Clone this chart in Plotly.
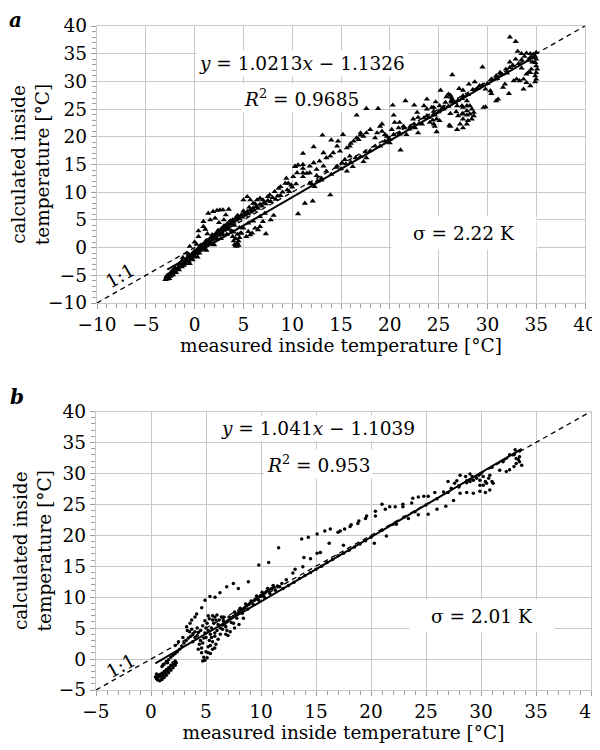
import plotly.graph_objects as go

# ---------------- data: panel a (triangles) ----------------
a_points = [
    # bottom cluster
    (-3.0,-5.8),(-2.9,-5.6),(-2.8,-5.7),(-2.7,-5.4),(-2.9,-5.3),(-2.6,-5.6),(-2.5,-5.2),(-2.8,-5.0),(-2.4,-5.0),(-2.6,-4.8),
    (-2.3,-4.7),(-2.2,-4.9),(-2.1,-4.4),(-2.4,-4.4),(-2.0,-4.2),(-1.9,-4.5),(-1.8,-3.9),(-2.2,-4.0),(-1.7,-3.6),(-1.6,-4.0),
    (-1.5,-3.4),(-2.0,-3.7),(-1.4,-3.1),(-1.3,-3.5),(-1.2,-2.8),(-1.6,-3.0),(-1.1,-3.2),(-1.0,-2.5),(-0.9,-2.9),(-1.3,-2.4),
    # main band
    (-0.8,-2.2),(-0.7,-1.7),(-0.6,-2.5),(-0.5,-1.5),(-0.4,-2.0),(-0.3,-1.2),(-0.2,-1.7),(-0.1,-0.9),(0.0,-1.5),(0.1,-0.6),
    (0.2,-1.1),(0.3,-0.3),(0.4,-0.8),(0.5,0.0),(0.6,-0.5),(0.7,0.3),(0.8,-0.2),(0.9,0.6),(1.0,0.1),(1.1,0.9),
    (1.2,0.4),(1.3,1.2),(1.4,0.7),(1.5,1.5),(1.6,1.0),(1.7,1.8),(1.8,1.3),(1.9,2.1),(2.0,1.6),(2.1,2.4),
    (2.2,1.9),(2.3,2.7),(2.4,2.2),(2.5,3.0),(2.6,2.5),(2.7,3.3),(2.8,2.8),(2.9,3.6),(3.0,3.1),(3.1,3.9),
    (3.2,3.4),(3.3,4.2),(3.4,3.7),(3.5,4.5),(3.6,4.0),(3.7,4.8),(3.8,4.3),(3.9,5.0),(4.0,4.6),(4.2,5.3),
    (4.3,4.9),(4.5,5.6),(4.6,5.2),(4.8,5.9),(4.9,5.5),(5.1,6.2),(5.2,5.8),(5.4,6.5),(5.5,6.1),(5.7,6.8),
    (5.8,6.4),(6.0,7.1),(6.1,6.7),(6.3,7.4),(6.5,7.1),(6.7,7.8),(6.9,7.5),(7.1,8.1),(7.3,7.9),(7.5,8.5),
    (7.8,8.3),(8.0,9.0),
    (-0.6,-1.2),(0.0,-0.6),(0.6,0.4),(1.2,1.3),(1.8,2.3),(2.4,3.1),(3.0,3.9),(3.6,4.7),(4.4,5.8),(5.0,6.6),
    (5.6,7.3),(6.2,7.9),(-0.2,-2.2),(0.5,-1.0),(1.1,-0.3),(1.7,0.6),(2.3,1.5),(2.9,2.3),(3.5,3.3),(4.1,4.0),
    # above band, low x
    (-1.2,-1.8),(-0.5,0.2),(0.0,1.0),(0.4,2.0),(0.4,3.0),(0.9,3.8),(0.9,4.7),(1.1,3.3),(1.4,6.2),(1.6,5.0),
    (1.9,6.5),(2.1,5.3),(2.3,6.7),(2.6,6.8),(2.9,6.8),(3.2,5.9),(3.5,6.9),(3.0,5.0),(2.5,4.5),(0.2,0.6),
    (-0.8,-1.0),(1.3,2.5),
    # below band, low x
    (-0.5,-2.9),(0.3,-1.7),(1.2,-0.5),(2.0,0.5),(2.7,1.6),(3.3,2.4),(3.8,3.0),(4.6,3.6),
    # blob near x = 4.3
    (3.9,2.0),(4.0,1.2),(4.1,0.6),(4.2,0.3),(4.3,0.5),(4.4,0.8),(4.5,1.2),(4.6,1.8),(4.4,2.4),(4.2,1.6),
    (4.0,2.8),(4.3,0.2),(4.5,0.4),(4.7,2.6),
    # below band, x 5-8
    (5.0,3.5),(5.5,2.9),(5.7,2.3),(6.2,3.5),(6.5,3.2),(6.7,3.8),(7.3,2.5),(7.0,4.7),(6.7,5.6),(7.2,6.2),
    (5.3,2.0),(5.9,2.6),(4.8,2.6),(7.8,5.0),(8.1,5.8),(6.0,4.8),(5.5,4.4),
    # above band, x 5-11
    (5.0,8.6),(5.4,9.2),(5.7,8.6),(6.4,8.6),(6.7,8.9),(6.0,8.0),(7.7,9.5),(8.2,10.1),(8.6,10.7),(8.8,11.0),
    (9.3,11.6),(9.6,11.6),(9.9,11.3),(9.4,12.5),(10.1,12.8),(10.3,14.6),(10.6,14.9),(11.1,14.3),(11.5,13.4),(11.1,12.8),
    (8.5,9.3),(9.0,10.0),(9.5,10.4),(10.0,10.9),(8.3,8.7),(8.8,9.4),(9.7,10.1),(10.4,11.5),(7.5,9.2),(7.0,8.6),
    # outliers below
    (10.6,6.1),(11.3,8.0),(12.1,8.4),(13.9,9.5),(12.3,11.0),(13.0,12.5),(11.8,11.6),(12.6,12.0),
    # middle, x 10-22
    (10.3,14.7),(11.1,17.0),(12.2,18.2),(13.1,20.3),(14.0,19.4),(14.2,17.1),(14.7,19.2),(14.6,18.3),(14.9,17.4),(13.9,16.5),
    (13.5,16.2),(13.2,17.1),(12.8,15.6),(12.2,15.3),(11.8,14.7),(11.1,15.0),(10.5,13.5),(11.1,13.5),(11.8,13.5),(12.5,14.1),
    (13.2,14.7),(15.2,20.4),(15.6,18.0),(15.9,18.3),(16.0,18.8),(16.3,19.2),(16.8,19.5),(16.6,19.8),(17.0,20.3),(17.0,20.7),
    (17.3,20.1),(17.6,20.7),(18.0,21.3),(17.6,16.2),(15.9,16.5),(15.4,15.9),(15.1,15.3),(14.6,14.7),(15.6,13.8),(16.6,23.9),
    (17.6,25.1),(18.8,25.1),(18.7,20.7),(18.5,19.8),(19.0,21.9),(19.2,21.0),(19.5,20.4),(19.9,19.5),(19.7,20.1),(20.0,18.9),
    (19.2,22.3),(20.3,25.7),(20.4,23.9),(20.2,21.3),(20.4,20.4),(20.5,22.6),(21.0,22.6),(20.9,21.6),(21.0,20.7),(21.4,21.9),
    (21.7,20.4),(21.1,17.6),
    # along the line, x 12-20
    (12.0,11.5),(13.0,12.2),(14.0,13.2),(15.0,14.2),(16.0,15.4),(17.0,16.4),(18.0,17.5),(19.0,18.3),(20.0,19.5),(12.5,13.0),
    (13.5,13.8),(14.5,14.5),(15.5,15.1),(16.5,16.2),(17.5,17.3),(18.5,18.3),(19.5,19.2),(16.2,14.6),(17.3,15.5),
    # upper right, x 21-32
    (21.6,26.5),(22.5,25.7),(22.8,24.4),(22.9,23.5),(22.4,23.2),(23.3,22.3),(22.1,21.9),(22.6,21.6),(22.9,20.7),(23.8,26.8),
    (23.5,25.6),(23.8,25.0),(24.3,25.3),(24.5,24.1),(24.8,23.2),(24.6,21.9),(25.1,22.9),(24.1,22.6),(23.8,23.8),(25.5,25.4),
    (25.3,25.0),(26.2,24.2),(26.8,24.5),(27.5,24.2),(27.9,23.9),(27.5,23.2),(27.2,22.3),(26.2,21.9),(27.5,21.6),(26.2,27.5),
    (25.8,27.2),(26.4,26.8),(27.4,26.9),(27.9,26.5),(27.9,25.6),(27.4,25.6),(26.3,26.5),(26.4,31.2),(25.2,28.4),(27.1,28.7),
    (27.5,28.4),(28.1,29.5),(28.2,25.6),(28.4,25.0),(28.6,24.4),(28.6,23.8),(28.2,24.1),(27.9,24.7),(27.5,25.3),(27.4,24.1),
    (27.0,23.8),(28.4,23.2),(28.0,22.9),(27.9,22.3),(26.1,22.1),(26.9,21.3),(24.7,26.3),(24.5,25.3),(24.6,23.9),(24.4,23.0),
    (24.5,22.3),(24.8,20.9),(26.0,27.7),(26.3,27.1),(25.1,25.6),(25.7,26.2),(26.7,26.2),(26.9,25.6),(28.7,29.9),(29.2,29.2),
    (29.8,28.6),(30.3,28.3),(30.4,27.8),(30.9,26.5),(31.1,26.8),(29.6,25.3),(29.8,25.4),(29.5,32.6),(30.9,31.0),(30.8,30.4),
    (31.3,31.6),(30.4,30.4),(31.8,29.5),(31.6,28.9),(32.2,27.8),
    # top right cluster
    (32.3,38.0),(32.9,37.2),(33.1,35.4),(33.5,35.0),(34.0,35.1),(34.4,35.0),(34.7,34.9),(35.0,35.2),(34.4,34.3),(34.7,34.3),
    (34.9,34.5),(35.0,34.0),(34.9,33.4),(35.0,32.8),(35.1,32.2),(35.0,31.6),(34.9,31.0),(35.0,30.4),(34.9,29.9),(34.5,32.2),
    (34.2,31.6),(34.0,31.3),(34.4,31.6),(33.7,30.4),(34.0,29.8),(34.4,29.2),(33.3,30.1),(33.0,30.4),(32.7,30.1),(33.7,28.6),
    (32.3,33.5),(32.6,32.9),(33.2,33.2),(33.5,33.9),(32.9,34.0),(32.3,32.5),(31.9,32.2),(33.8,34.5),(34.2,33.8),(33.5,32.4),
    (34.6,33.5),
    # along the line, x 21-32
    (21.0,20.5),(22.0,21.4),(23.0,22.4),(24.0,23.5),(25.0,24.5),(26.0,25.5),(27.0,26.6),(28.0,27.6),(29.0,28.7),(30.0,29.6),
    (31.0,30.5),(32.0,31.5),(21.5,21.6),(22.5,22.3),(23.5,23.4),(24.5,24.6),(25.5,25.0),(26.5,26.2),(27.5,27.4),(28.5,28.5),
    (29.5,29.3),(30.5,30.3),(31.5,31.3),
]

# ---------------- data: panel b (dots) ----------------
b_points = [
    # lower-left loop
    (0.4,-2.9),(0.5,-3.2),(0.6,-3.4),(0.8,-3.5),(1.0,-3.3),(1.2,-3.0),(1.4,-2.6),(1.6,-2.2),(1.8,-1.8),(2.0,-1.4),
    (2.2,-1.0),(2.3,-0.6),(2.2,-0.3),(2.0,-0.6),(1.8,-1.0),(1.6,-1.4),(1.4,-1.7),(1.2,-2.0),(1.0,-2.3),(0.8,-2.5),
    (0.6,-2.6),(0.5,-2.4),(0.7,-2.9),(0.9,-2.9),(1.1,-2.6),(1.3,-2.3),(1.5,-1.9),(1.7,-1.5),(1.9,-1.1),(2.1,-0.8),
    (1.0,-1.2),(1.2,-0.8),(1.4,-0.4),(1.6,-0.1),(1.8,0.3),(2.0,0.6),(2.2,0.9),(1.1,-0.9),(1.5,-0.6),
    # chain upward
    (2.4,1.2),(2.6,1.6),(2.8,2.1),(3.0,2.6),(3.2,3.0),(3.4,3.4),(3.6,3.7),(3.8,4.1),(4.0,4.4),(3.5,4.4),
    (3.3,4.6),(3.7,4.8),(2.9,3.5),(2.5,2.8),(2.2,2.2),(4.0,3.5),(3.8,2.8),(4.2,5.0),(4.3,4.3),
    # blob near x = 5-6.5
    (4.7,-0.3),(4.8,0.3),(4.6,1.0),(4.6,1.8),(4.7,2.6),(4.8,3.4),(4.9,4.2),(5.0,5.0),(5.1,5.8),(5.3,6.5),
    (5.6,7.0),(6.0,7.1),(6.4,6.8),(6.6,6.2),(6.7,5.5),(6.5,4.8),(6.3,4.0),(6.1,3.2),(5.9,2.4),(5.6,1.6),
    (5.4,0.9),(5.1,0.2),(4.9,-0.2),(5.2,2.0),(5.3,3.0),(5.4,4.0),(5.5,5.0),(5.7,5.8),(5.9,6.3),(6.1,5.6),
    (6.0,4.6),(5.8,3.7),(5.6,2.8),(5.4,2.2),(5.0,3.5),(5.2,4.6),(5.6,6.3),(6.2,6.3),(6.3,5.0),(5.8,4.2),
    (5.5,3.5),(5.0,1.2),(5.2,1.0),(5.8,1.8),(4.3,1.6),(4.4,2.4),(4.5,3.0),(4.2,3.8),(4.5,4.6),(4.7,5.4),
    (4.9,6.2),(5.2,7.0),(5.8,6.8),(6.6,6.8),
    # dense band x 6.5-12
    (6.5,5.5),(6.7,5.8),(6.9,6.0),(7.0,6.2),(7.2,6.5),(7.4,6.7),(7.5,6.9),(7.7,7.2),(7.9,7.4),(8.0,7.6),
    (8.2,7.9),(8.4,8.1),(8.5,8.3),(8.7,8.6),(8.9,8.8),(9.0,9.0),(9.2,9.3),(9.4,9.5),(9.5,9.7),(9.7,9.9),
    (9.9,10.1),(10.0,10.3),(10.2,10.5),(10.4,10.7),(10.5,10.9),(10.7,11.1),(10.9,11.3),(11.0,11.4),(11.2,11.6),(11.5,11.8),
    (6.6,6.1),(7.1,6.8),(7.6,7.6),(8.1,8.2),(8.6,8.9),(9.1,9.4),(9.6,10.2),(10.1,10.8),(10.6,11.4),(11.1,11.9),
    (6.8,5.2),(7.3,5.9),(7.8,6.6),(8.3,7.4),(8.8,8.1),(9.3,8.8),(9.8,9.5),(10.3,10.0),(10.8,10.6),(11.3,11.1),
    (7.5,5.8),(8.4,6.6),(7.2,4.4),(6.8,4.0),(7.0,3.8),(7.6,5.0),(8.0,5.6),(6.9,4.6),
    # upper arc
    (3.24,5.2),(3.55,5.8),(3.7,6.3),(4.0,6.8),(4.15,7.3),(4.61,8.3),(4.91,9.5),(5.36,10.1),(5.82,10.0),(6.27,10.7),
    (6.88,11.7),(7.49,12.2),(7.94,11.4),(8.85,12.5),(9.8,15.2),(10.7,15.6),(11.6,18.0),(13.7,19.4),(14.3,19.7),(15.1,20.2),
    (15.8,20.7),(16.3,21.0),(17.0,20.5),(17.2,20.7),(17.6,21.0),(18.1,21.4),(18.2,21.7),(18.8,21.9),(18.9,22.3),(19.5,22.7),
    (19.6,23.1),(20.4,23.1),(20.4,23.9),(21.0,25.0),(21.3,24.2),(21.7,24.6),(22.2,24.6),(22.9,24.6),(22.9,25.0),(23.7,25.2),
    (23.8,26.0),(24.3,26.2),(24.8,26.3),(25.2,26.3),(25.8,26.9),(26.6,27.0),(27.3,27.6),(28.0,27.8),(28.7,28.5),
    # lower branch
    (13.9,16.4),(14.5,16.2),(15.1,17.1),(15.4,17.2),(16.2,18.7),(17.5,18.4),(13.8,14.9),(13.1,14.5),(12.9,13.9),(12.3,12.8),
    (11.9,12.2),(11.7,11.7),(20.3,18.7),(21.4,19.9),(22.3,21.8),(23.4,22.7),(24.3,23.3),(25.2,23.4),(26.0,24.2),(26.8,24.7),
    (27.5,25.6),(28.1,26.8),(28.7,26.9),(29.3,26.8),(29.9,27.1),(30.4,26.9),(30.8,27.3),
    # along the line
    (12.0,11.4),(12.5,11.9),(13.0,12.4),(13.5,13.0),(14.0,13.5),(14.5,14.0),(15.0,14.5),(15.5,15.0),(16.0,15.6),(16.5,16.1),
    (17.0,16.7),(17.5,17.1),(18.0,17.6),(18.5,18.1),(19.0,18.6),(19.5,19.1),(20.0,19.7),(21.0,20.8),(22.0,21.8),(23.0,22.9),
    (24.0,23.8),(25.0,24.9),(26.0,25.9),(27.0,26.9),(28.0,28.0),(29.0,29.0),(30.0,30.0),(31.0,31.0),(32.0,32.0),(33.0,33.0),
    (33.5,33.6),
    # cluster x 28-31
    (28.1,29.7),(28.6,29.5),(29.0,29.9),(29.2,29.5),(29.3,28.9),(29.6,29.2),(29.8,29.7),(29.9,28.9),(30.2,29.5),(30.4,28.7),
    (30.5,28.4),(30.7,29.2),(30.8,29.7),(31.0,28.7),(31.1,28.4),(30.2,28.1),(29.9,28.1),(29.0,28.7),(28.7,28.8),(27.8,28.8),
    (27.0,28.7),(27.6,28.4),
    # right cluster x 32-34
    (31.7,30.5),(32.3,30.3),(32.6,30.6),(33.0,31.1),(33.2,31.6),(33.4,32.2),(33.5,32.7),(33.7,31.3),(33.5,31.9),(33.2,32.4),
    (32.0,31.9),(32.6,33.0),(33.1,33.8),
]

a_x = [p[0] for p in a_points]
a_y = [p[1] for p in a_points]
b_x = [p[0] for p in b_points]
b_y = [p[1] for p in b_points]

# regression lines (slope, intercept) and x-extent
a_fit = (1.0213, -1.1326)
a_fit_x = [-2.8, 35.0]
b_fit = (1.041, -1.1039)
b_fit_x = [0.4, 33.7]
a_range = [-10, 40]
b_range_x = [-5, 40]
b_range_y = [-5, 40]

a_fit_y = [a_fit[0] * v + a_fit[1] for v in a_fit_x]
b_fit_y = [b_fit[0] * v + b_fit[1] for v in b_fit_x]

FONT = "DejaVu Serif"
FS = 18.5
GRID = "#c8c8c8"

# page body margin offsets the figure by 8 px; size the figure to fill the rest
OFF = 8
W, H = 600 - OFF, 750 - OFF

def xd(p0, p1):
    return [(p0 - OFF) / W, (p1 - OFF) / W]

def yd(top, bottom):
    return [1 - (bottom - OFF) / H, 1 - (top - OFF) / H]

fig = go.Figure()

# panel a
fig.add_trace(go.Scatter(x=a_range, y=a_range, mode="lines",
                         line=dict(color="black", width=1.3, dash="5px,4px"),
                         xaxis="x", yaxis="y", showlegend=False))
fig.add_trace(go.Scatter(x=a_x, y=a_y, mode="markers",
                         marker=dict(symbol="triangle-up", size=5.5, color="black"),
                         xaxis="x", yaxis="y", showlegend=False))
fig.add_trace(go.Scatter(x=a_fit_x, y=a_fit_y, mode="lines",
                         line=dict(color="black", width=2),
                         xaxis="x", yaxis="y", showlegend=False))

# panel b
fig.add_trace(go.Scatter(x=b_range_x, y=b_range_y, mode="lines",
                         line=dict(color="black", width=1.3, dash="5px,4px"),
                         xaxis="x2", yaxis="y2", showlegend=False))
fig.add_trace(go.Scatter(x=b_x, y=b_y, mode="markers",
                         marker=dict(symbol="circle", size=3.5, color="black"),
                         xaxis="x2", yaxis="y2", showlegend=False))
fig.add_trace(go.Scatter(x=b_fit_x, y=b_fit_y, mode="lines",
                         line=dict(color="black", width=2),
                         xaxis="x2", yaxis="y2", showlegend=False))

def axis_style(rng, domain, anchor, title, standoff):
    return dict(
        range=rng, domain=domain, anchor=anchor, dtick=5, automargin=False,
        showgrid=True, gridcolor=GRID, gridwidth=1.3,
        zeroline=False, showline=True, linecolor=GRID, linewidth=1.3, mirror=True,
        ticks="outside", ticklen=5, tickcolor="#a0a0a0", ticklabeloverflow="allow",
        minor=dict(dtick=1, ticks="outside", ticklen=4, tickcolor="#a0a0a0", showgrid=False),
        tickfont=dict(family=FONT, size=FS, color="black"),
        title=dict(text=title, font=dict(family=FONT, size=FS, color="black"), standoff=standoff),
    )

ytitle = "calculated inside<br>temperature [°C]"
xtitle = "measured inside temperature [°C]"

fig.update_layout(
    width=W, height=H,
    margin=dict(l=0, r=0, t=0, b=0),
    paper_bgcolor="white", plot_bgcolor="white",
    xaxis=axis_style(a_range, xd(97, 585), "y", xtitle, 4),
    yaxis=axis_style(a_range, yd(26, 303), "x", ytitle, 2),
    xaxis2=axis_style(b_range_x, xd(96, 591), "y2", xtitle, 4),
    yaxis2=axis_style(b_range_y, yd(411.5, 690), "x2", ytitle, 2),
)

ann_font = dict(family=FONT, size=FS, color="black")
annotations = [
    dict(text="<i>y</i> = 1.0213<i>x</i> − 1.1326", x=11.0, y=33.3, xref="x", yref="y"),
    dict(text="<i>R</i><sup>2</sup> = 0.9685", x=11.0, y=27.0, xref="x", yref="y"),
    dict(text="σ = 2.22 K", x=27.6, y=2.6, xref="x", yref="y", width=140, height=28),
    dict(text="<i>y</i> = 1.041<i>x</i> − 1.1039", x=15.2, y=37.3, xref="x2", yref="y2"),
    dict(text="<i>R</i><sup>2</sup> = 0.953", x=15.2, y=31.5, xref="x2", yref="y2"),
    dict(text="σ = 2.01 K", x=30.1, y=7.0, xref="x2", yref="y2", width=140, height=28),
]
for a in annotations:
    fig.add_annotation(showarrow=False, font=ann_font, bgcolor="white", borderpad=2, **a)

fig.add_annotation(text="1:1", x=-7.6, y=-5.0, xref="x", yref="y", showarrow=False,
                   textangle=-30, font=ann_font)
fig.add_annotation(text="1:1", x=-2.7, y=-1.1, xref="x2", yref="y2", showarrow=False,
                   textangle=-29, font=ann_font)

fig.add_annotation(text="<b><i>a</i></b>", x=(15 - OFF) / W, y=1 - (20 - OFF) / H,
                   xref="paper", yref="paper", xanchor="center", yanchor="middle",
                   borderpad=0, showarrow=False, font=dict(family=FONT, size=20, color="black"))
fig.add_annotation(text="<b><i>b</i></b>", x=(17 - OFF) / W, y=1 - (397 - OFF) / H,
                   xref="paper", yref="paper", xanchor="center", yanchor="middle",
                   borderpad=0, showarrow=False, font=dict(family=FONT, size=20, color="black"))

fig.write_html("out.html")
